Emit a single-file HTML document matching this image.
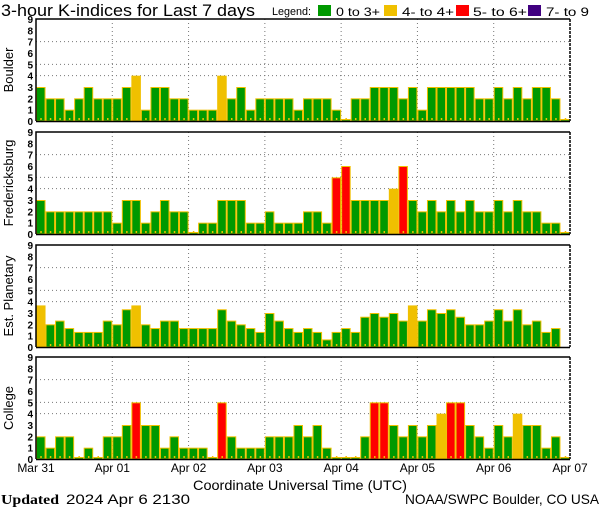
<!DOCTYPE html>
<html><head><meta charset="utf-8"><style>
html,body{margin:0;padding:0;background:#fff;}
svg{display:block;}
text{font-family:"Liberation Sans",sans-serif;fill:#000;}
</style></head><body>
<svg id="chart" width="600" height="510" viewBox="0 0 600 510" xmlns="http://www.w3.org/2000/svg">
<text x="1" y="16" font-size="17" textLength="254" lengthAdjust="spacingAndGlyphs">3-hour K-indices for Last 7 days</text>
<g>
<text x="272" y="15" font-size="11" textLength="39" lengthAdjust="spacingAndGlyphs">Legend:</text>
<rect x="318" y="5" width="13" height="11" fill="#009900"/>
<text x="336" y="16" font-size="12" textLength="44" lengthAdjust="spacingAndGlyphs">0 to 3+</text>
<rect x="384" y="5" width="13" height="11" fill="#f0c000"/>
<text x="402" y="16" font-size="12" textLength="52" lengthAdjust="spacingAndGlyphs">4- to 4+</text>
<rect x="456" y="5" width="13" height="11" fill="#ff0000"/>
<text x="473" y="16" font-size="12" textLength="54" lengthAdjust="spacingAndGlyphs">5- to 6+</text>
<rect x="528" y="5" width="13" height="11" fill="#400080"/>
<text x="546" y="16" font-size="12" textLength="43" lengthAdjust="spacingAndGlyphs">7- to 9</text>
</g>
<g id="panels"></g>
<g id="xlabels"></g>
<text x="193" y="490" font-size="14" textLength="214" lengthAdjust="spacingAndGlyphs">Coordinate Universal Time (UTC)</text>
<text x="1" y="504" font-size="14" font-weight="bold" style="font-family:'Liberation Serif',serif" textLength="58" lengthAdjust="spacingAndGlyphs">Updated</text>
<text x="66" y="504" font-size="14" textLength="124" lengthAdjust="spacingAndGlyphs">2024 Apr  6 2130</text>
<text x="405" y="504" font-size="14" textLength="194" lengthAdjust="spacingAndGlyphs">NOAA/SWPC Boulder, CO USA</text>
</svg>
<script>
const stations = ["Boulder","Fredericksburg","Est. Planetary","College"];
const boulder = [3,2,2,1,2,3,2,2,2,3,4,1,3,3,2,2,1,1,1,4,2,3,1,2,2,2,2,1,2,2,2,1,0,2,2,3,3,3,2,3,1,3,3,3,3,3,2,2,3,2,3,2,3,3,2,0];
const fredericksburg = [3,2,2,2,2,2,2,2,1,3,3,1,2,3,2,2,0,1,1,3,3,3,1,1,2,1,1,1,2,2,1,5,6,3,3,3,3,4,6,3,2,3,2,3,2,3,2,2,3,2,3,2,2,1,1,0];
const planetary = [3.67,2,2.33,1.67,1.33,1.33,1.33,2.33,2,3.33,3.67,2,1.67,2.33,2.33,1.67,1.67,1.67,1.67,3.33,2.33,2,1.67,1.33,3,2.33,1.67,1.33,1.67,1.33,0.67,1.33,1.67,1.33,2.67,3,2.67,3,2.33,3.67,2.33,3.33,3,3.33,2.67,2,2,2.33,3.33,2.33,3.33,2,2.33,1.33,1.67,null];
const college = [2,1,2,2,0,1,0,2,2,3,5,3,3,1,2,1,1,1,0,5,2,1,1,1,2,2,2,3,2,3,1,0,0,0,2,5,5,3,2,3,2,3,4,5,5,3,2,1,3,2,4,3,3,1,2,0];
const seriesList = [boulder,fredericksburg,planetary,college];
const dayLabels = ["Mar 31","Apr 01","Apr 02","Apr 03","Apr 04","Apr 05","Apr 06","Apr 07"];
const yTicks = [0,1,2,3,4,5,6,7,8,9];
const gridLevels = [4,5,7];

const NS="http://www.w3.org/2000/svg";
const X0=36, X1=570, NB=56;
const panelTops=[19,132,245,357], PH=102;
function mk(tag,attrs,parent){const e=document.createElementNS(NS,tag);for(const k in attrs)e.setAttribute(k,attrs[k]);parent.appendChild(e);return e;}
function xScale(i){return X0+(X1-X0)*i/NB;}
function yScale(v,top){return top+PH-PH*v/9;}
function color(v){if(v>=6.67)return "#400080";if(v>=4.67)return "#ff0000";if(v>=3.67)return "#f0c000";return "#009900";}
const panels=document.getElementById('panels');
seriesList.forEach((data,p)=>{
  const top=panelTops[p];
  const g=mk('g',{},panels);
  
  
  gridLevels.forEach(l=>{const ln=mk('line',{x1:X0,x2:X1,y1:yScale(l,top),y2:yScale(l,top),stroke:'#777','stroke-dasharray':'1,3'},g);
    });
  for(let d=1;d<7;d++){const x=xScale(d*8);const ln=mk('line',{x1:x,x2:x,y1:top,y2:top+PH,stroke:'#777','stroke-dasharray':'1,3'},g);
    }
  data.forEach((v,i)=>{
    if(v===null)return;
    const x=xScale(i),w=xScale(i+1)-x;
    let y=yScale(v,top),h=top+PH-y; if(h<2){h=2;y=top+PH-2;}
    const r=mk('rect',{x:x+0.5,y:y+0.5,width:w-1,height:h-0.5,fill:color(v),stroke:'#f0c000','stroke-width':1},g);
    
    
    const t=mk('rect',{x:x+w/2-0.5,y:top+PH-3,width:1.5,height:2,fill:'#f0c000'},g);
    
  });
  const fr=mk('path',{d:`M${X0} ${top+PH}V${top}H${X1}`,fill:'none',stroke:'#000','stroke-width':1.5},g);
  
  const rb=mk('line',{x1:X1,x2:X1,y1:top,y2:top+PH,stroke:'#000','stroke-width':1.5,'stroke-dasharray':'3,1'},g);
  
  const bl=mk('line',{x1:X0,x2:X1,y1:top+PH+0.5,y2:top+PH+0.5,stroke:'#000','stroke-width':1.5},g);
  
  yTicks.forEach(t=>{const tx=mk('text',{x:33,y:yScale(t,top)+4,'font-size':10,'text-anchor':'end','font-weight':'bold'},g);tx.textContent=t;
    });
  const cy=top+PH/2;
  const yl=mk('text',{x:0,y:0,'font-size':13,'text-anchor':'middle',transform:`translate(13 ${cy}) rotate(-90)`},g);
  yl.textContent=stations[p];
  
});
const xl=document.getElementById('xlabels');
dayLabels.forEach((l,d)=>{const t=mk('text',{x:xScale(d*8),y:472,'font-size':12,'text-anchor':'middle'},xl);t.textContent=l;
  });
</script>
</body></html>
